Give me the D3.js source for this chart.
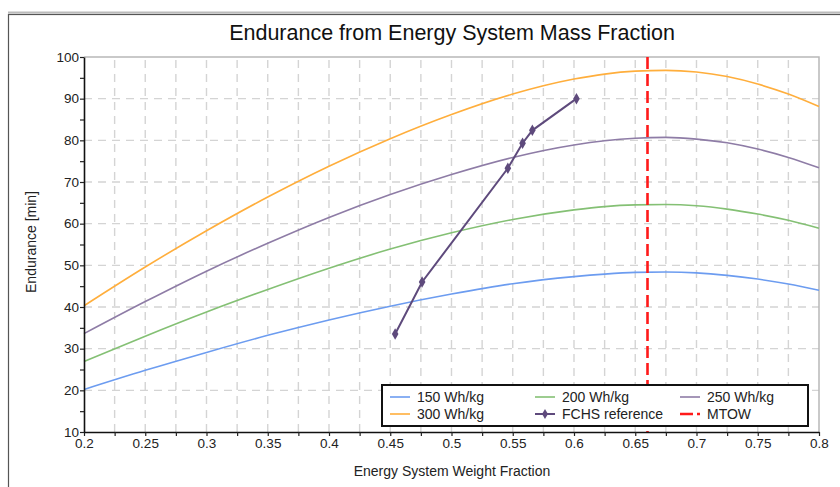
<!DOCTYPE html>
<html><head><meta charset="utf-8">
<script src="https://cdn.jsdelivr.net/npm/d3@7/dist/d3.min.js"></script>
<style>
body{margin:0;background:#fff}
svg{display:block;font-family:"Liberation Sans",Arial,sans-serif}
</style>
</head><body>
<svg id="c" width="840" height="487"></svg>
<script>
// ---- data ----
const fractions = [0.2,0.25,0.3,0.35,0.4,0.45,0.5,0.55,0.6,0.625,0.65,0.675,0.7,0.725,0.75,0.775,0.8];
const e150 = [20.2,24.8,29.1,33.2,36.9,40.2,43.1,45.6,47.3,47.9,48.3,48.4,48.2,47.6,46.7,45.5,44.0];
const e200 = [26.9,33.0,38.8,44.2,49.3,53.9,57.8,61.0,63.3,64.1,64.5,64.6,64.3,63.5,62.3,60.8,58.9];
const e250 = [33.6,41.3,48.6,55.3,61.5,67.0,71.8,75.9,78.9,79.9,80.5,80.7,80.3,79.4,77.9,75.9,73.4];
const e300 = [40.3,49.6,58.3,66.4,73.8,80.4,86.2,91.1,94.7,95.9,96.6,96.8,96.4,95.3,93.5,91.1,88.1];
const fchsX = [0.454,0.476,0.546,0.558,0.566,0.602];
const fchsY = [33.5,46.0,73.3,79.3,82.4,90.0];
const mtowX = [0.66];
const xTickValues = [0.2,0.25,0.3,0.35,0.4,0.45,0.5,0.55,0.6,0.65,0.7,0.75,0.8];
const xTickLabels = ["0.2","0.25","0.3","0.35","0.4","0.45","0.5","0.55","0.6","0.65","0.7","0.75","0.8"];
const xMinorValues = [0.225,0.275,0.325,0.375,0.425,0.475,0.525,0.575,0.625,0.675,0.725,0.775];
const yTickValues = [10,20,30,40,50,60,70,80,90,100];
const yMinorValues = [15,25,35,45,55,65,75,85,95];
const seriesNames = ["150 Wh/kg","200 Wh/kg","250 Wh/kg","300 Wh/kg"];
const seriesColors = ["#6c9cf0","#84c074","#8e7ca6","#ffae3c"];
const fchsName = "FCHS reference", fchsColor = "#5e4a7c";
const mtowName = "MTOW", mtowColor = "#ff1a1a";
const titleText = "Endurance from Energy System Mass Fraction";
const xLabel = "Energy System Weight Fraction";
const yLabel = "Endurance [min]";

// ---- layout ----
const svg = d3.select("#c");
const L = 84, R = 819, T = 57, B = 432;
const x = d3.scaleLinear().domain([0.2,0.8]).range([L,R]);
const y = d3.scaleLinear().domain([10,100]).range([B,T]);

// outer frame
svg.append("line").attr("x1",8).attr("x2",840).attr("y1",12.5).attr("y2",12.5).attr("stroke","#bbb").attr("stroke-width",2);
svg.append("rect").attr("x",8.5).attr("y",14.5).attr("width",840).attr("height",480)
  .attr("fill","none").attr("stroke","#555").attr("stroke-width",1.2);

// title
svg.append("text").attr("x",452).attr("y",40).attr("text-anchor","middle")
  .attr("font-size",21.5).attr("fill","#111").text(titleText);

// grid
const grid = svg.append("g").attr("stroke","#d4d4d4").attr("stroke-width",1.4).attr("stroke-dasharray","8,6");
grid.selectAll(".vg").data(xTickValues.concat(xMinorValues).filter(v=>v>0.2 && v<0.8)).enter().append("line")
  .attr("x1",d=>x(d)).attr("x2",d=>x(d)).attr("y1",B).attr("y2",T);
grid.selectAll(".hg").data(yTickValues.filter(v=>v>10 && v<100)).enter().append("line")
  .attr("y1",d=>y(d)).attr("y2",d=>y(d)).attr("x1",L).attr("x2",R);

// plot frame (top/right)
svg.append("path").attr("d",`M${L},${T}H${R}V${B}`).attr("fill","none").attr("stroke","#b8b8b8").attr("stroke-width",1.5);

// series
const line = d3.line().curve(d3.curveMonotoneX);
[e150,e200,e250,e300].forEach((vals,i)=>{
  svg.append("path").attr("fill","none").attr("stroke",seriesColors[i]).attr("stroke-width",1.6)
    .attr("d", line(fractions.map((f,j)=>[x(f), y(vals[j])])));
});

// FCHS
svg.append("path").attr("fill","none").attr("stroke",fchsColor).attr("stroke-width",2)
  .attr("d", d3.line()(fchsX.map((f,j)=>[x(f),y(fchsY[j])])));
svg.selectAll(".mk").data(fchsX).enter().append("path")
  .attr("transform",(d,j)=>`translate(${x(d)},${y(fchsY[j])})`)
  .attr("d", d3.symbol(d3.symbolDiamond, 38)).attr("fill",fchsColor);

// MTOW
svg.selectAll(".mt").data(mtowX).enter().append("line")
  .attr("x1",d=>x(d)).attr("x2",d=>x(d)).attr("y1",T).attr("y2",B)
  .attr("stroke",mtowColor).attr("stroke-width",2.6).attr("stroke-dasharray","12,5");

// axes
svg.append("g").attr("transform",`translate(0,${B})`)
  .call(d3.axisBottom(x).tickValues(xTickValues).tickFormat((d,i)=>xTickLabels[i]).tickSize(4).tickSizeOuter(0).tickPadding(2));
svg.append("g").attr("transform",`translate(0,${B})`)
  .call(d3.axisBottom(x).tickValues(xMinorValues).tickFormat("").tickSize(4).tickSizeOuter(0))
  .select(".domain").remove();
svg.append("g").attr("transform",`translate(${L},0)`)
  .call(d3.axisLeft(y).tickValues(yTickValues).tickSize(4).tickSizeOuter(0).tickPadding(1));
svg.append("g").attr("transform",`translate(${L},0)`)
  .call(d3.axisLeft(y).tickValues(yMinorValues).tickFormat("").tickSize(4).tickSizeOuter(0))
  .select(".domain").remove();
svg.selectAll(".domain").attr("stroke","#111").attr("stroke-width",1.6);
svg.selectAll(".tick line").attr("stroke","#222").attr("stroke-width",1.2);
svg.selectAll(".tick text").attr("font-size",13.5).attr("fill","#222")
  .attr("font-family","'Liberation Sans',Arial,sans-serif");

// axis labels
svg.append("text").attr("x",452).attr("y",476).attr("text-anchor","middle")
  .attr("font-size",14).attr("fill","#222").text(xLabel);
svg.append("text").attr("transform","translate(36,242) rotate(-90)").attr("text-anchor","middle")
  .attr("font-size",14).attr("fill","#222").text(yLabel);

// legend
const lg = svg.append("g");
lg.append("rect").attr("x",382).attr("y",385).attr("width",426).attr("height",41)
  .attr("fill","#fff").attr("stroke","#111").attr("stroke-width",2);
const legendItems = [
  {name:seriesNames[0], color:seriesColors[0], col:0, row:0, type:"line"},
  {name:seriesNames[1], color:seriesColors[1], col:1, row:0, type:"line"},
  {name:seriesNames[2], color:seriesColors[2], col:2, row:0, type:"line"},
  {name:seriesNames[3], color:seriesColors[3], col:0, row:1, type:"line"},
  {name:fchsName, color:fchsColor, col:1, row:1, type:"marker"},
  {name:mtowName, color:mtowColor, col:2, row:1, type:"dash"}
];
const colX = [390,535,680], rowY = [397,414];
legendItems.forEach(it=>{
  const x0 = colX[it.col], yy = rowY[it.row];
  const ln = lg.append("line").attr("x1",x0).attr("x2",x0+20).attr("y1",yy).attr("y2",yy)
    .attr("stroke",it.color).attr("stroke-width",it.type==="line"?1.6:(it.type==="dash"?2.6:2));
  if(it.type==="dash") ln.attr("stroke-dasharray","13,4");
  if(it.type==="marker") lg.append("path").attr("transform",`translate(${x0+10},${yy})`)
    .attr("d", d3.symbol(d3.symbolDiamond, 30)).attr("fill",it.color);
  lg.append("text").attr("x",x0+27).attr("y",yy+5).attr("font-size",14).attr("fill","#222").text(it.name);
});
</script>
</body></html>
